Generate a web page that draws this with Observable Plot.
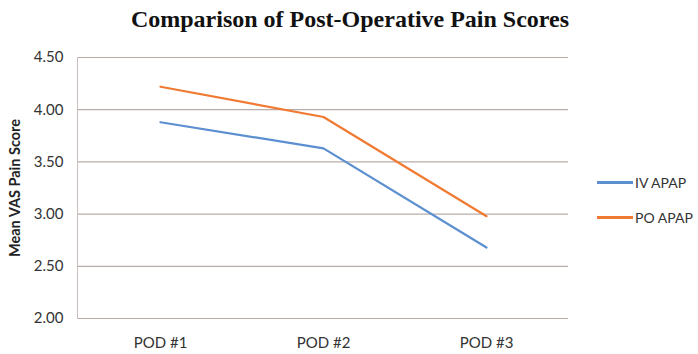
<!DOCTYPE html>
<html>
<head>
<meta charset="utf-8">
<script src="https://cdn.jsdelivr.net/npm/d3@7"></script>
<script src="https://cdn.jsdelivr.net/npm/@observablehq/plot@0.6"></script>
<style>
  body { margin: 0; background: #fff; width: 698px; height: 354px; position: relative; overflow: hidden; }
  #title { height: 40px; line-height: 38px; text-align: center; font-family: "Liberation Serif", serif; font-weight: bold; font-size: 24px; color: #111; padding-left: 2px; }
  #legend { position: absolute; left: 597px; top: 165px; font-family: Lato, sans-serif; font-size: 14px; color: #333; }
  .item { display: flex; align-items: center; height: 35px; }
  .sw { width: 36px; height: 2.5px; margin-right: 2px; }
</style>
</head>
<body>
<div id="title">Comparison of Post-Operative Pain Scores</div>
<div id="chart"></div>
<div id="legend"></div>
<script>
const days = ["POD #1", "POD #2", "POD #3"];
const seriesNames = ["IV APAP", "PO APAP"];
const ivApap = [3.88, 3.63, 2.68];
const poApap = [4.22, 3.93, 2.98];
const colors = ["#5b8fd0", "#f07a32"];
const yTicks = [2.0, 2.5, 3.0, 3.5, 4.0, 4.5];

const rows = [];
[ivApap, poApap].forEach((vals, i) => {
  vals.forEach((v, j) => rows.push({series: seriesNames[i], day: days[j], value: v}));
});

const plot = Plot.plot({
  width: 698,
  height: 314,
  marginTop: 17,
  marginBottom: 36,
  marginLeft: 77,
  marginRight: 130,
  style: {fontFamily: "Lato, sans-serif", fontSize: "15px", color: "#333", background: "transparent"},
  x: {type: "point", domain: days, padding: 0.5},
  y: {domain: [2, 4.5]},
  color: {domain: seriesNames, range: colors},
  marks: [
    Plot.ruleY(yTicks, {stroke: "#b8aca9", strokeWidth: 1.2, strokeOpacity: 1}),
    Plot.frame({anchor: "left", stroke: "#c9c0be"}),
    Plot.axisY({ticks: yTicks, tickSize: 0, tickPadding: 14, tickFormat: d => d.toFixed(2),
      label: "Mean VAS Pain Score", labelAnchor: "center", labelArrow: "none", labelOffset: 68}),
    Plot.axisX({tickSize: 0, tickPadding: 19, label: null}),
    Plot.line(rows, {x: "day", y: "value", z: "series", stroke: "series", strokeWidth: 2.2})
  ]
});
document.getElementById("chart").appendChild(plot);
plot.querySelectorAll("g[aria-label='y-axis label'] text").forEach(t => { t.style.fontWeight = "bold"; t.style.fontSize = "14.5px"; t.style.fill = "#222"; });

const leg = document.getElementById("legend");
seriesNames.forEach((s, i) => {
  const item = document.createElement("div");
  item.className = "item";
  item.innerHTML = `<span class="sw" style="background:${colors[i]}"></span><span>${s}</span>`;
  leg.appendChild(item);
});
</script>
</body>
</html>
